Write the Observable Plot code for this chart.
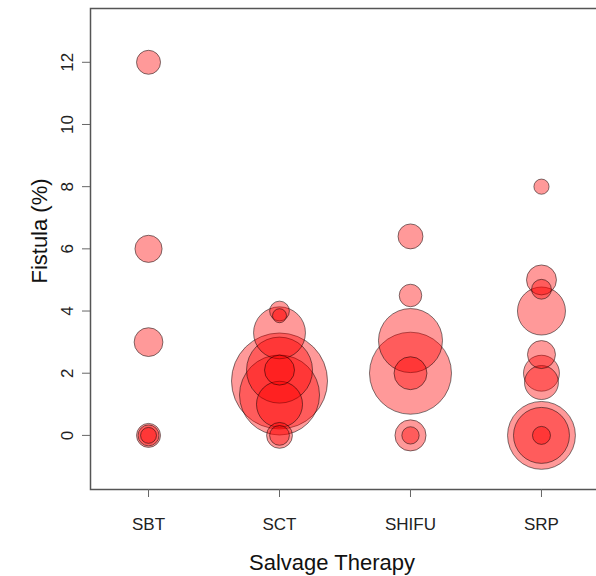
<!DOCTYPE html>
<html>
<head>
<meta charset="utf-8">
<script src="https://cdn.jsdelivr.net/npm/d3@7"></script>
<script src="https://cdn.jsdelivr.net/npm/@observablehq/plot@0.6"></script>
<style>
  html, body { margin: 0; padding: 0; background: #fff; overflow: hidden; }
  #chart { width: 596px; height: 576px; }
</style>
</head>
<body>
<div id="chart"></div>
<script>
// Data
const therapies = ["SBT", "SCT", "SHIFU", "SRP"];
const therapy = [
  "SBT","SBT","SBT","SBT","SBT","SBT",
  "SCT","SCT","SCT","SCT","SCT","SCT","SCT","SCT","SCT","SCT",
  "SHIFU","SHIFU","SHIFU","SHIFU","SHIFU","SHIFU","SHIFU",
  "SRP","SRP","SRP","SRP","SRP","SRP","SRP","SRP","SRP","SRP"
];
const fistula = [
  12, 6, 3, 0, 0, 0,
  4.0, 3.85, 3.3, 1.75, 1.3, 2.1, 2.1, 1.0, 0, 0,
  6.4, 4.5, 3.05, 2.0, 2.0, 0, 0,
  8, 5.0, 4.7, 4.0, 2.6, 2.0, 1.7, 0, 0, 0
];
const sampleSize = [
  25, 32, 36, 25, 19, 11,
  17, 8.5, 117, 400, 278, 189, 39, 92, 29, 17,
  27, 22, 178, 292, 47, 42, 13,
  10, 39, 17, 100, 34, 56, 50, 200, 136, 14
];
const yTicks = [0, 2, 4, 6, 8, 10, 12];

const data = therapy.map((t, i) => ({therapy: t, fistula: fistula[i], n: sampleSize[i]}));

const chart = Plot.plot({
  width: 596,
  height: 576,
  marginLeft: 90,
  marginRight: -3,
  marginTop: 8,
  marginBottom: 87,
  style: {background: "#fff", fontFamily: "'Liberation Sans', Arial, sans-serif"},
  x: {type: "point", domain: therapies, padding: 0.443, round: false},
  y: {domain: [-1.74, 13.73]},
  r: {type: "sqrt", domain: [0, 400], range: [0, 48]},
  marks: [
    Plot.dot(data, {
      x: "therapy", y: "fistula", r: "n",
      fill: "red", fillOpacity: 0.4,
      stroke: "#000", strokeOpacity: 0.5, strokeWidth: 1
    }),
    Plot.frame({stroke: "#555", strokeWidth: 1.5}),
    Plot.axisX({tickSize: 8, tickPadding: 20, fontSize: 17, stroke: "#666", fill: "#222", label: null}),
    Plot.axisY(yTicks, {tickSize: 8, text: null, stroke: "#666", label: null}),
    Plot.text(yTicks, {y: d => d, text: d => String(d), frameAnchor: "left", textAnchor: "middle", lineAnchor: "middle", dx: -23, rotate: -90, fontSize: 17, fill: "#222"}),
    Plot.text(["Fistula (%)"], {frameAnchor: "left", textAnchor: "middle", lineAnchor: "middle", dx: -51, dy: -18, rotate: -90, fontSize: 22, fill: "#111"}),
    Plot.text(["Salvage Therapy"], {frameAnchor: "bottom", textAnchor: "middle", dx: -13, dy: 80, fontSize: 22, fill: "#111"})
  ]
});
document.getElementById("chart").appendChild(chart);
</script>
</body>
</html>
